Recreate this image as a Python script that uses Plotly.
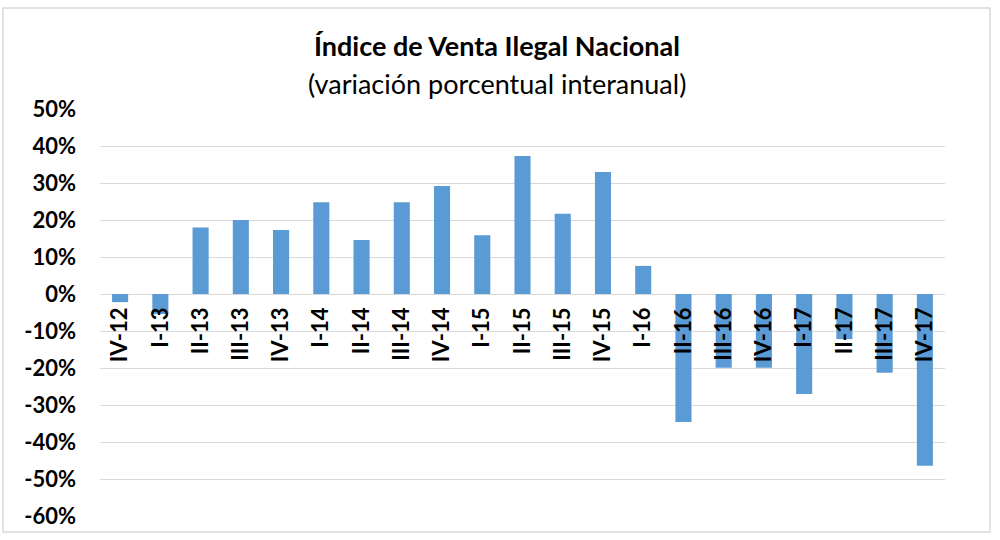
import plotly.graph_objects as go

categories = ["IV-12", "I-13", "II-13", "III-13", "IV-13", "I-14", "II-14", "III-14", "IV-14",
              "I-15", "II-15", "III-15", "IV-15", "I-16", "II-16", "III-16", "IV-16",
              "I-17", "II-17", "III-17", "IV-17"]
values = [-2.2, -5.4, 18.0, 20.0, 17.3, 24.8, 14.6, 24.8, 29.2,
          15.9, 37.3, 21.7, 33.0, 7.6, -34.6, -19.9, -19.9,
          -27.0, -12.2, -21.3, -46.4]
y_ticks = list(range(-60, 51, 10))
y_labels = [f"{t}%" for t in y_ticks]
y_min, y_max = -60, 50

FONT = "Lato"
L, R, T, B = 100, 55, 109, 24
PW, PH = 1000 - L - R, 540 - T - B

fig = go.Figure()
fig.add_trace(go.Bar(x=categories, y=values, marker_color="#5B9BD5",
                     marker_line_width=0, width=0.4))

zero_pos = (0 - y_min) / (y_max - y_min)

def px_y(y):
    return (540 - B - y) / PH

def px_x(x):
    return (x - L) / PW

fig.update_layout(
    width=1000, height=540,
    margin=dict(l=L, r=R, t=T, b=B, autoexpand=False),
    paper_bgcolor="white", plot_bgcolor="white",
    showlegend=False,
    font=dict(family=FONT, color="#000000"),
    xaxis=dict(
        type="category", anchor="free", position=zero_pos,
        tickangle=-90, showgrid=False, showline=False, ticks="",
        tickfont=dict(family=FONT, size=22, color="#000000", weight="bold"),
        ticklabelstandoff=8, automargin=False,
    ),
    yaxis=dict(
        range=[y_min, y_max], tickvals=y_ticks, ticktext=y_labels,
        showgrid=True, gridcolor="#D9D9D9", gridwidth=1, zeroline=False,
        ticks="", showline=False, automargin=False,
        tickfont=dict(family=FONT, size=22, color="#000000", weight="bold"),
        ticklabelstandoff=23,
    ),
    annotations=[
        dict(text="<b>Índice de Venta Ilegal Nacional</b>", xref="paper", yref="paper",
             x=px_x(497), y=px_y(45), xanchor="center", yanchor="middle", showarrow=False,
             font=dict(family=FONT, size=27, color="#000000")),
        dict(text="(variación porcentual interanual)", xref="paper", yref="paper",
             x=px_x(497), y=px_y(83), xanchor="center", yanchor="middle", showarrow=False,
             font=dict(family=FONT, size=27, color="#000000")),
    ],
    shapes=[dict(type="rect", xref="paper", yref="paper",
                 x0=px_x(3), x1=px_x(990), y0=px_y(532), y1=px_y(8),
                 line=dict(color="#D9D9D9", width=1.5), fillcolor="rgba(0,0,0,0)",
                 layer="below")],
)

fig.write_html("out.html", config={"displayModeBar": False},
               post_script="document.body.style.margin='0';")
